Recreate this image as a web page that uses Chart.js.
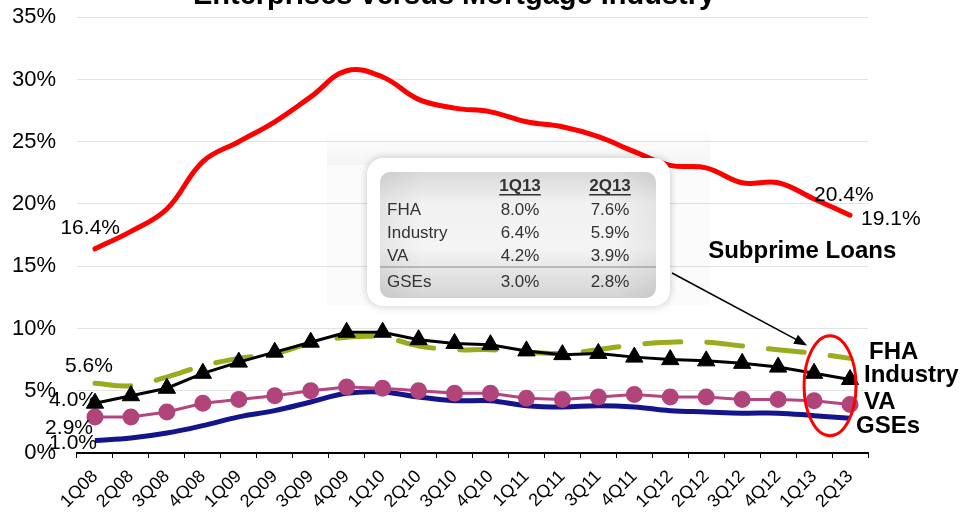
<!DOCTYPE html>
<html><head><meta charset="utf-8">
<script src="https://cdn.jsdelivr.net/npm/chart.js@4"></script>
<style>html,body{margin:0;padding:0;background:#fff}#wrap{width:972px;height:514px;position:relative}</style>
</head><body><div id="wrap"><canvas id="c" width="972" height="514"></canvas></div>
<script>
const quarters = ['1Q08','2Q08','3Q08','4Q08','1Q09','2Q09','3Q09','4Q09','1Q10','2Q10','3Q10','4Q10','1Q11','2Q11','3Q11','4Q11','1Q12','2Q12','3Q12','4Q12','1Q13','2Q13'];
const subprime = [16.4,17.8,19.6,23.4,25.0,26.6,28.6,30.7,30.2,28.4,27.7,27.4,26.6,26.2,25.4,24.2,23.1,22.9,21.7,21.7,20.4,19.1];
const fha      = [5.6,5.4,6.1,7.0,7.6,8.0,8.8,9.3,9.3,8.6,8.3,8.3,8.1,8.0,8.3,8.7,8.9,8.9,8.6,8.3,8.0,7.6];
const industry = [4.0,4.6,5.2,6.4,7.3,8.1,8.9,9.7,9.7,9.1,8.8,8.7,8.2,7.9,8.0,7.7,7.5,7.4,7.2,6.9,6.4,5.9];
const va       = [2.9,2.9,3.3,4.0,4.3,4.6,5.0,5.3,5.2,5.0,4.8,4.8,4.4,4.3,4.5,4.7,4.5,4.5,4.3,4.3,4.2,3.9];
const gses     = [1.0,1.2,1.6,2.2,2.9,3.4,4.1,4.8,4.9,4.5,4.2,4.2,3.8,3.7,3.8,3.7,3.4,3.3,3.2,3.2,3.0,2.8];
const yTickValues = [0,5,10,15,20,25,30,35];
const tableRows = ['FHA','Industry','VA','GSEs'];
const tableSeries = [fha, industry, va, gses];
const tableCols = quarters.slice(-2);
const titleText = 'Enterprises versus Mortgage Industry';

const FONT = "'Liberation Sans', Arial, sans-serif";

function fmt(v){ return v.toFixed(1) + '%'; }

const overlay = {
  id: 'overlay',
  beforeDatasetsDraw(chart){
    const ctx = chart.ctx;
    ctx.save();
    const g = ctx.createLinearGradient(0,127,0,165);
    g.addColorStop(0,'rgba(0,0,0,0.0)');
    g.addColorStop(1,'rgba(0,0,0,0.04)');
    ctx.fillStyle = g;
    ctx.fillRect(327,127,383,38);
    ctx.fillStyle = 'rgba(0,0,0,0.015)';
    ctx.fillRect(327,165,383,140);
    ctx.restore();
  },
  afterDatasetsDraw(chart){
    const ctx = chart.ctx;
    const xs = chart.scales.x, ys = chart.scales.y;
    const pt = (ds, i) => chart.getDatasetMeta(ds).data[i];
    const last = quarters.length - 1;
    ctx.save();

    // table box
    ctx.save();
    ctx.shadowColor = 'rgba(0,0,0,0.22)';
    ctx.shadowBlur = 10;
    ctx.fillStyle = '#ffffff';
    ctx.beginPath(); ctx.roundRect(367,158,303,148,16); ctx.fill();
    ctx.restore();
    const ig = ctx.createLinearGradient(0,172,0,298);
    ig.addColorStop(0,'#d9d9d9');
    ig.addColorStop(0.25,'#f1f1f1');
    ig.addColorStop(0.6,'#f4f4f4');
    ig.addColorStop(1,'#d4d4d4');
    ctx.fillStyle = ig;
    ctx.beginPath(); ctx.roundRect(380,172,276,126,10); ctx.fill();
    const hg = ctx.createLinearGradient(380,0,656,0);
    hg.addColorStop(0,'rgba(0,0,0,0.06)');
    hg.addColorStop(0.15,'rgba(0,0,0,0)');
    hg.addColorStop(0.85,'rgba(0,0,0,0)');
    hg.addColorStop(1,'rgba(0,0,0,0.06)');
    ctx.fillStyle = hg;
    ctx.beginPath(); ctx.roundRect(380,172,276,126,10); ctx.fill();

    ctx.fillStyle = '#333';
    ctx.textBaseline = 'middle';
    ctx.font = 'bold 17px ' + FONT;
    ctx.textAlign = 'center';
    const colX = [520, 610];
    tableCols.forEach((c, k) => {
      ctx.fillText(c, colX[k], 186);
      const w = ctx.measureText(c).width;
      ctx.fillRect(colX[k]-w/2, 194, w, 1.5);
    });
    ctx.font = '17px ' + FONT;
    const rowY = [210, 233, 256, 282];
    tableRows.forEach((r, k) => {
      ctx.textAlign = 'left';
      ctx.fillText(r, 387, rowY[k]);
      ctx.textAlign = 'center';
      const s = tableSeries[k];
      ctx.fillText(fmt(s[s.length-2]), colX[0], rowY[k]);
      ctx.fillText(fmt(s[s.length-1]), colX[1], rowY[k]);
    });
    ctx.strokeStyle = '#8a8a8a'; ctx.lineWidth = 1.2;
    ctx.beginPath(); ctx.moveTo(380,267); ctx.lineTo(656,267); ctx.stroke();

    // arrow from table to FHA 1Q13
    const fp = pt(1, last-1);
    const ax0 = 672, ay0 = 273, ax1 = fp.x - 7, ay1 = fp.y - 8;
    const ang = Math.atan2(ay1-ay0, ax1-ax0);
    ctx.strokeStyle = '#000'; ctx.lineWidth = 1.6;
    ctx.beginPath(); ctx.moveTo(ax0,ay0);
    ctx.lineTo(ax1 - 10*Math.cos(ang), ay1 - 10*Math.sin(ang)); ctx.stroke();
    ctx.fillStyle = '#000';
    ctx.beginPath();
    ctx.moveTo(ax1, ay1);
    ctx.lineTo(ax1 - 13*Math.cos(ang) + 5*Math.sin(ang), ay1 - 13*Math.sin(ang) - 5*Math.cos(ang));
    ctx.lineTo(ax1 - 13*Math.cos(ang) - 5*Math.sin(ang), ay1 - 13*Math.sin(ang) + 5*Math.cos(ang));
    ctx.closePath(); ctx.fill();

    // red ellipse
    const ex = (xs.getPixelForValue(last-1) + xs.getPixelForValue(last)) / 2 - 2;
    const ey = ys.getPixelForValue(5.4);
    ctx.strokeStyle = '#ff0000'; ctx.lineWidth = 3;
    ctx.beginPath(); ctx.ellipse(ex, ey, 26, 50, 0, 0, Math.PI*2); ctx.stroke();

    // value labels
    ctx.fillStyle = '#000';
    ctx.font = '21px ' + FONT;
    ctx.textBaseline = 'middle';
    let p;
    p = pt(0,0); ctx.textAlign = 'right'; ctx.fillText(fmt(subprime[0]), p.x+25, p.y-21);
    p = pt(0,last-1); ctx.textAlign = 'left'; ctx.fillText(fmt(subprime[last-1]), p.x, p.y-4);
    p = pt(0,last); ctx.textAlign = 'left'; ctx.fillText(fmt(subprime[last]), p.x+11, p.y+4);
    p = pt(1,0); ctx.textAlign = 'center'; ctx.fillText(fmt(fha[0]), p.x-6, p.y-17);
    p = pt(2,0); ctx.textAlign = 'right'; ctx.fillText(fmt(industry[0]), p.x+2, p.y-3);
    p = pt(3,0); ctx.textAlign = 'right'; ctx.fillText(fmt(va[0]), p.x-2, p.y+11);
    p = pt(4,0); ctx.textAlign = 'right'; ctx.fillText(fmt(gses[0]), p.x+2, p.y+3);

    // series names
    ctx.font = 'bold 24px ' + FONT;
    ctx.textAlign = 'left';
    p = pt(1,last); ctx.fillText('FHA', p.x+19, p.y-6);
    p = pt(2,last); ctx.fillText('Industry', p.x+14, p.y-4);
    p = pt(3,last); ctx.fillText('VA', p.x+14, p.y-2);
    p = pt(4,last); ctx.fillText('GSEs', p.x+6, p.y+8);
    ctx.fillText('Subprime Loans', xs.getPixelForValue(17)+2, ys.getPixelForValue(16.2));

    // title (cut at top)
    ctx.font = 'bold 29px ' + FONT;
    ctx.textAlign = 'center';
    ctx.textBaseline = 'alphabetic';
    ctx.fillText(titleText, 454, 4);
    ctx.restore();
  }
};

new Chart(document.getElementById('c'), {
  type: 'line',
  data: {
    labels: quarters,
    datasets: [
      { label:'Subprime Loans', data: subprime, borderColor:'#ff0000', borderWidth:5, tension:0.4, pointRadius:0, order:5, borderCapStyle:'round' },
      { label:'FHA', data: fha, borderColor:'#9aab1e', borderWidth:5, borderDash:[36,26], borderCapStyle:'round', tension:0.4, pointRadius:0, order:3 },
      { label:'Industry', data: industry, borderColor:'#000', borderWidth:3, tension:0, pointStyle:'triangle', pointRadius:10, pointBackgroundColor:'#000', pointBorderColor:'#000', pointBorderWidth:1, order:1 },
      { label:'VA', data: va, borderColor:'#b5457e', borderWidth:3, tension:0, pointStyle:'circle', pointRadius:7, pointBackgroundColor:'#b0447b', pointBorderColor:'#b0447b', order:2 },
      { label:'GSEs', data: gses, borderColor:'#14148c', borderWidth:5, tension:0.4, pointRadius:0, order:4 }
    ]
  },
  options: {
    responsive:false, animation:false,
    layout:{ padding:{ top:0, right:104, left:0, bottom:0 } },
    plugins:{ legend:{display:false}, tooltip:{enabled:false}, title:{display:false} },
    scales:{
      x:{
        offset:true,
        grid:{ display:true, drawOnChartArea:false, drawTicks:true, tickLength:5, color:'#000', offset:true },
        border:{ display:true, color:'#000', width:2 },
        ticks:{ minRotation:45, maxRotation:45, autoSkip:false, color:'#000', font:{ family:FONT, size:18 }, padding:8 },
        afterFit(a){ a.height = 61; }
      },
      y:{
        min:0, max:35,
        afterBuildTicks(a){ a.ticks = yTickValues.map(v => ({value:v})); },
        grid:{ color:'#e2e2e2', drawTicks:true, tickLength:17, tickColor:'rgba(0,0,0,0)', lineWidth:1 },
        border:{ display:false },
        ticks:{ color:'#000', padding:4, font:{ family:FONT, size:22 }, callback:(v)=> v + '%' },
        afterFit(a){ a.width = 77; }
      }
    }
  },
  plugins:[overlay]
});
</script>
</body></html>
